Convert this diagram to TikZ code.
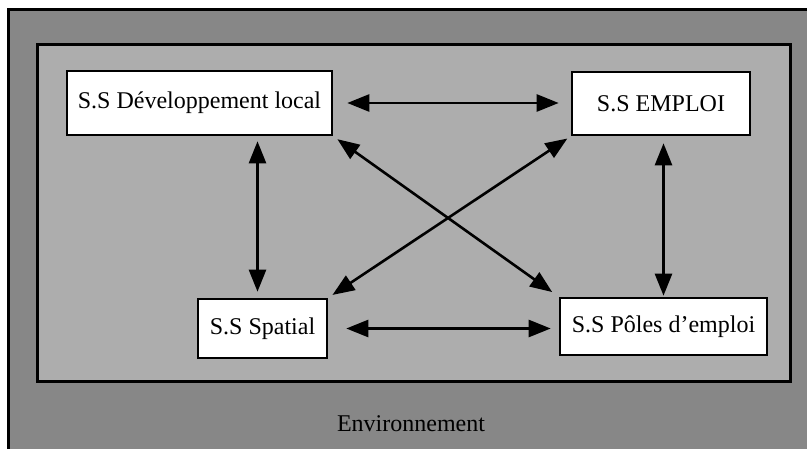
\documentclass[tikz,border=0pt]{standalone}
\usepackage{fontspec}
\setmainfont{Liberation Serif}
\usetikzlibrary{arrows.meta}
\begin{document}
\begin{tikzpicture}[x=1pt,y=-1pt,
  ssbox/.style={draw=black,line width=2.6pt,fill=white,inner sep=0pt,font=\fontsize{24}{28}\selectfont},
  link/.style={line width=2.6pt,{Triangle[length=22pt,width=17pt]}-{Triangle[length=22pt,width=17pt]}}]
\useasboundingbox (0,0) rectangle (807,449);
% environment
\fill[black!47] (8,10) rectangle (807,449);
\draw[line width=3pt] (8,449) -- (8,10) -- (807,10);
% system
\draw[line width=3pt,fill=black!32] (37,45) rectangle (790,382);
\node[font=\fontsize{24}{28}\selectfont] (env) at (411,424) {Environnement};
% subsystems
\node[ssbox,minimum width=265pt,minimum height=64pt] (dev) at (199.5,103) {S.S Développement local};
\node[ssbox,minimum width=178pt,minimum height=63pt] (emploi) at (661,103.5) {S.S EMPLOI};
\node[ssbox,minimum width=129pt,minimum height=59pt] (spatial) at (262.5,328.5) {S.S Spatial};
\node[ssbox,minimum width=207pt,minimum height=57pt] (poles) at (663.5,326.5) {S.S Pôles d'emploi};
% connectors
\draw[link,shorten <=14pt,shorten >=12pt] (dev.east) -- (dev.east -| emploi.west);
\draw[link,shorten <=18pt,shorten >=8pt] (spatial.east) -- (spatial.east -| poles.west);
\draw[link,shorten <=5pt,shorten >=6pt] ([xshift=-5pt]spatial.north |- dev.south) -- ([xshift=-5pt]spatial.north);
\draw[link,shorten <=7pt,shorten >=1pt] (poles.north |- emploi.south) -- (poles.north);
\draw[link,shorten <=5pt,shorten >=8pt] (dev.south east) -- (poles.north west);
\draw[link,shorten <=4pt,shorten >=5pt] (emploi.south west) -- (spatial.north east);
\end{tikzpicture}
\end{document}
